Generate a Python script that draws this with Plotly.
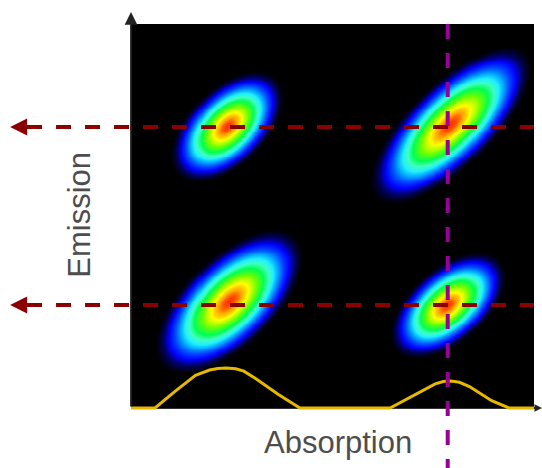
import numpy as np
import plotly.graph_objects as go

# Four cross peaks of the absorption / emission map (axis units, box spans 0-100)
peak_absorption = [23.8, 79.2, 24.3, 78.5]
peak_emission = [73.4, 73.8, 27.8, 26.8]
peak_sigma_major = [6.6, 10.0, 8.9, 6.6]
peak_sigma_minor = [3.7, 4.0, 4.3, 3.6]
peak_tilt_deg = [47, 46, 46, 43]
peak_height = [1.0, 1.0, 1.0, 1.0]

# Emission levels marked by dashed arrows and the absorption band marked by the vertical line
emission_levels = [73.2, 26.8]
absorption_marker = 78.6

# Linear absorption spectrum along the bottom of the map
spectrum_x = [0, 5.96, 11.0, 16.0, 19.5, 21.5, 23.6, 26.0, 28.0, 31.0, 36.5, 41.9,
              64.3, 67.5, 71.5, 75.5, 77.5, 79.4, 81.5, 84.0, 89.5, 93.8, 100]
spectrum_y = [0, 0, 4.4, 8.5, 9.9, 10.3, 10.4, 10.2, 9.6, 7.6, 3.6, 0,
              0, 1.8, 4.2, 6.3, 6.9, 7.0, 6.7, 5.6, 1.9, 0, 0]

x_range = [-32.51, 102.0]
y_range = [-15.625, 106.25]

# Evaluate the map on a regular grid inside the box
step = 0.5
gx = np.arange(step / 2, 100, step)
gy = np.arange(step / 2, 100, step)
X, Y = np.meshgrid(gx, gy)
Z = np.zeros_like(X)
for cx, cy, sa, sb, th, h in zip(peak_absorption, peak_emission, peak_sigma_major,
                                 peak_sigma_minor, peak_tilt_deg, peak_height):
    t = np.deg2rad(th)
    du, dv = X - cx, Y - cy
    p = du * np.cos(t) + dv * np.sin(t)
    q = -du * np.sin(t) + dv * np.cos(t)
    Z += h * np.exp(-0.5 * ((p / sa) ** 2 + (q / sb) ** 2))

jet_black = [
    [0.00, "#000000"], [0.03, "#000000"], [0.06, "#00005a"], [0.10, "#0000ff"],
    [0.16, "#0050ff"], [0.22, "#00a8ff"], [0.29, "#20f0ff"], [0.37, "#40ffc0"],
    [0.47, "#00ff50"], [0.63, "#70ff00"], [0.80, "#ffff00"], [0.92, "#ffa000"],
    [1.00, "#ff3000"],
]

fig = go.Figure()

fig.add_trace(go.Heatmap(
    x=gx, y=gy, z=Z, zmin=0, zmax=1, colorscale=jet_black,
    showscale=False, zsmooth="best", hoverinfo="skip",
))

fig.add_trace(go.Scatter(
    x=spectrum_x, y=spectrum_y, mode="lines",
    line=dict(color="#e6b800", width=3),
    hoverinfo="skip",
))

arrow_tip = -30.0
arrow_tail = -25.8
for lvl in emission_levels:
    fig.add_trace(go.Scatter(
        x=[arrow_tail, 100], y=[lvl, lvl], mode="lines",
        line=dict(color="#8b0000", width=4, dash="15px,14px"),
        hoverinfo="skip",
    ))

fig.add_trace(go.Scatter(
    x=[absorption_marker, absorption_marker], y=[100, y_range[0]], mode="lines",
    line=dict(color="#990099", width=4, dash="15px,14px"),
    hoverinfo="skip",
))

shapes = [
    dict(type="rect", xref="x", yref="y", x0=0, x1=100, y0=0, y1=100,
         fillcolor="#050505", line=dict(width=0), layer="below"),
    dict(type="line", xref="x", yref="y", x0=0, x1=101.5, y0=0, y1=0,
         line=dict(color="#333333", width=2), layer="below"),
]

annotations = [
    # vertical axis with arrow
    dict(x=0, y=103.1, ax=0, ay=0, xref="x", yref="y", axref="x", ayref="y",
         showarrow=True, arrowhead=2, arrowsize=1.4, arrowwidth=1.8, arrowcolor="#222222", text=""),
    # small arrow tip of the horizontal axis
    dict(x=102.0, y=0, ax=100.5, ay=0, xref="x", yref="y", axref="x", ayref="y",
         showarrow=True, arrowhead=2, arrowsize=1, arrowwidth=1.5, arrowcolor="#222222", text=""),
    dict(x=-12.7, y=50.3, xref="x", yref="y", text="Emission", textangle=-90,
         showarrow=False, font=dict(family="Liberation Sans, Arial", size=31, color="#4d4d4d")),
    dict(x=51.4, y=-9.1, xref="x", yref="y", text="Absorption",
         showarrow=False, font=dict(family="Liberation Sans, Arial", size=31, color="#4d4d4d")),
]
for lvl in emission_levels:
    annotations.append(dict(
        x=arrow_tip, y=lvl, ax=arrow_tip + 3.0, ay=lvl, xref="x", yref="y", axref="x", ayref="y",
        showarrow=True, arrowhead=2, arrowsize=0.85, arrowwidth=4, arrowcolor="#8b0000", text="",
    ))

fig.update_layout(
    width=542, height=468,
    margin=dict(l=0, r=0, t=0, b=0),
    paper_bgcolor="white", plot_bgcolor="white",
    xaxis=dict(range=x_range, visible=False, fixedrange=True),
    yaxis=dict(range=y_range, visible=False, fixedrange=True),
    showlegend=False,
    shapes=shapes,
    annotations=annotations,
)

fig.write_html("out.html")
